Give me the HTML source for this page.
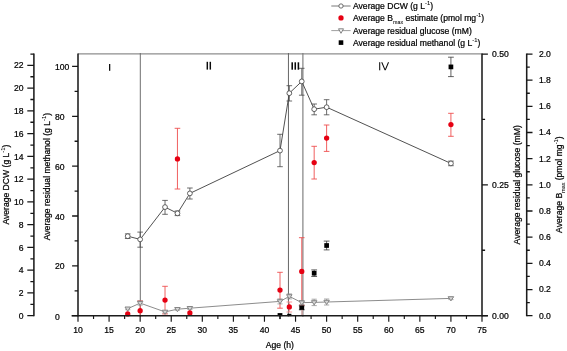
<!DOCTYPE html><html><head><meta charset="utf-8"><title>chart</title>
<style>html,body{margin:0;padding:0;background:#fff}svg{display:block;will-change:transform}text{font-family:"Liberation Sans",sans-serif;fill:#000;stroke:#000;stroke-width:0.22px}</style></head><body>
<svg width="567" height="351" viewBox="0 0 567 351">
<rect width="567" height="351" fill="#fff"/>
<defs><clipPath id="pc"><rect x="78.0" y="50" width="404.0" height="265.9"/></clipPath></defs>
<line x1="78.0" y1="53.85" x2="482.0" y2="53.85" stroke="#8e8e8e" stroke-width="1.3"/>
<line x1="140.3" y1="53.0" x2="140.3" y2="316.5" stroke="#6e6e6e" stroke-width="1.0"/>
<line x1="288.45" y1="53.0" x2="288.45" y2="316.5" stroke="#666" stroke-width="1.0"/>
<line x1="302.9" y1="53.0" x2="302.9" y2="316.7" stroke="#7c7c7c" stroke-width="1.15"/>
<g>
<polyline points="127.72,308.70 140.15,303.10 165.02,311.90 177.45,309.20 189.88,308.20 280.00,301.40 289.32,296.40 301.75,302.60 314.18,302.40 326.62,302.00 450.92,298.40" fill="none" stroke="#868686" stroke-width="0.95"/>
<polyline points="127.72,236.20 140.15,239.40 165.02,207.10 177.45,213.30 189.88,193.40 280.00,150.60 289.32,93.20 301.75,81.40 314.18,109.20 326.62,107.20 450.92,163.40" fill="none" stroke="#484848" stroke-width="0.95"/>
<path d="M140.15 300.90V315.70M137.35 300.90H142.95M137.35 315.70H142.95" stroke="#ee4e4e" stroke-width="0.9" fill="none"/>
<path d="M165.02 286.30V313.90M162.22 286.30H167.82M162.22 313.90H167.82" stroke="#ee4e4e" stroke-width="0.9" fill="none"/>
<path d="M177.45 128.30V189.00M174.65 128.30H180.25M174.65 189.00H180.25" stroke="#ee4e4e" stroke-width="0.9" fill="none"/>
<path d="M280.00 272.30V308.20M277.20 272.30H282.80M277.20 308.20H282.80" stroke="#ee4e4e" stroke-width="0.9" fill="none"/>
<path d="M289.32 302.00V312.00M286.52 302.00H292.12M286.52 312.00H292.12" stroke="#f38c8c" stroke-width="0.9" fill="none"/>
<path d="M301.75 237.70V305.20M298.95 237.70H304.55M298.95 305.20H304.55" stroke="#ee4e4e" stroke-width="0.9" fill="none"/>
<path d="M314.18 146.30V179.00M311.38 146.30H316.98M311.38 179.00H316.98" stroke="#ee4e4e" stroke-width="0.9" fill="none"/>
<path d="M326.62 125.00V151.40M323.82 125.00H329.42M323.82 151.40H329.42" stroke="#ee4e4e" stroke-width="0.9" fill="none"/>
<path d="M450.92 113.30V136.30M448.12 113.30H453.72M448.12 136.30H453.72" stroke="#ee4e4e" stroke-width="0.9" fill="none"/>
<path d="M127.72 307.70V309.70M125.12 307.70H130.32M125.12 309.70H130.32" stroke="#868686" stroke-width="0.7" fill="none"/>
<path d="M140.15 301.10V305.10M137.55 301.10H142.75M137.55 305.10H142.75" stroke="#868686" stroke-width="0.7" fill="none"/>
<path d="M165.02 310.90V312.90M162.42 310.90H167.62M162.42 312.90H167.62" stroke="#868686" stroke-width="0.7" fill="none"/>
<path d="M177.45 308.20V310.20M174.85 308.20H180.05M174.85 310.20H180.05" stroke="#868686" stroke-width="0.7" fill="none"/>
<path d="M189.88 307.00V309.40M187.28 307.00H192.48M187.28 309.40H192.48" stroke="#868686" stroke-width="0.7" fill="none"/>
<path d="M280.00 298.90V303.90M277.40 298.90H282.60M277.40 303.90H282.60" stroke="#868686" stroke-width="0.7" fill="none"/>
<path d="M289.32 293.90V298.90M286.72 293.90H291.92M286.72 298.90H291.92" stroke="#868686" stroke-width="0.7" fill="none"/>
<path d="M301.75 300.60V304.60M299.15 300.60H304.35M299.15 304.60H304.35" stroke="#868686" stroke-width="0.7" fill="none"/>
<path d="M314.18 299.20V305.60M311.58 299.20H316.78M311.58 305.60H316.78" stroke="#868686" stroke-width="0.7" fill="none"/>
<path d="M326.62 299.00V305.00M324.02 299.00H329.22M324.02 305.00H329.22" stroke="#868686" stroke-width="0.7" fill="none"/>
<path d="M450.92 297.20V299.60M448.32 297.20H453.52M448.32 299.60H453.52" stroke="#868686" stroke-width="0.7" fill="none"/>
<path d="M301.75 305.80V309.80M298.85 305.80H304.65M298.85 309.80H304.65" stroke="#3a3a3a" stroke-width="0.8" fill="none"/>
<path d="M314.18 269.90V276.50M311.28 269.90H317.08M311.28 276.50H317.08" stroke="#3a3a3a" stroke-width="0.8" fill="none"/>
<path d="M326.62 241.10V249.90M323.72 241.10H329.52M323.72 249.90H329.52" stroke="#3a3a3a" stroke-width="0.8" fill="none"/>
<path d="M450.92 57.20V76.60M448.02 57.20H453.82M448.02 76.60H453.82" stroke="#3a3a3a" stroke-width="0.8" fill="none"/>
<path d="M127.72 233.90V238.50M124.92 233.90H130.52M124.92 238.50H130.52" stroke="#484848" stroke-width="0.8" fill="none"/>
<path d="M140.15 232.10V247.20M137.35 232.10H142.95M137.35 247.20H142.95" stroke="#484848" stroke-width="0.8" fill="none"/>
<path d="M165.02 200.40V214.30M162.22 200.40H167.82M162.22 214.30H167.82" stroke="#484848" stroke-width="0.8" fill="none"/>
<path d="M177.45 211.00V215.60M174.65 211.00H180.25M174.65 215.60H180.25" stroke="#484848" stroke-width="0.8" fill="none"/>
<path d="M189.88 188.00V199.00M187.08 188.00H192.68M187.08 199.00H192.68" stroke="#484848" stroke-width="0.8" fill="none"/>
<path d="M280.00 134.30V166.70M277.20 134.30H282.80M277.20 166.70H282.80" stroke="#484848" stroke-width="0.8" fill="none"/>
<path d="M289.32 85.70V101.00M286.52 85.70H292.12M286.52 101.00H292.12" stroke="#484848" stroke-width="0.8" fill="none"/>
<path d="M301.75 68.30V95.20M298.95 68.30H304.55M298.95 95.20H304.55" stroke="#484848" stroke-width="0.8" fill="none"/>
<path d="M314.18 104.00V114.80M311.38 104.00H316.98M311.38 114.80H316.98" stroke="#484848" stroke-width="0.8" fill="none"/>
<path d="M326.62 99.70V114.80M323.82 99.70H329.42M323.82 114.80H329.42" stroke="#484848" stroke-width="0.8" fill="none"/>
<path d="M450.92 161.10V165.70M448.12 161.10H453.72M448.12 165.70H453.72" stroke="#484848" stroke-width="0.8" fill="none"/>
<path d="M124.97 307.00H130.47L127.72 311.20Z" fill="#d6d6d6" stroke="#868686" stroke-width="1.0" stroke-linejoin="round"/>
<path d="M137.40 301.40H142.90L140.15 305.60Z" fill="#d6d6d6" stroke="#868686" stroke-width="1.0" stroke-linejoin="round"/>
<path d="M162.27 310.20H167.77L165.02 314.40Z" fill="#d6d6d6" stroke="#868686" stroke-width="1.0" stroke-linejoin="round"/>
<path d="M174.70 307.50H180.20L177.45 311.70Z" fill="#d6d6d6" stroke="#868686" stroke-width="1.0" stroke-linejoin="round"/>
<path d="M187.13 306.50H192.63L189.88 310.70Z" fill="#d6d6d6" stroke="#868686" stroke-width="1.0" stroke-linejoin="round"/>
<path d="M277.25 299.70H282.75L280.00 303.90Z" fill="#d6d6d6" stroke="#868686" stroke-width="1.0" stroke-linejoin="round"/>
<path d="M286.57 294.70H292.07L289.32 298.90Z" fill="#d6d6d6" stroke="#868686" stroke-width="1.0" stroke-linejoin="round"/>
<path d="M299.00 300.90H304.50L301.75 305.10Z" fill="#d6d6d6" stroke="#868686" stroke-width="1.0" stroke-linejoin="round"/>
<path d="M311.43 300.70H316.93L314.18 304.90Z" fill="#d6d6d6" stroke="#868686" stroke-width="1.0" stroke-linejoin="round"/>
<path d="M323.87 300.30H329.37L326.62 304.50Z" fill="#d6d6d6" stroke="#868686" stroke-width="1.0" stroke-linejoin="round"/>
<path d="M448.17 296.70H453.67L450.92 300.90Z" fill="#d6d6d6" stroke="#868686" stroke-width="1.0" stroke-linejoin="round"/>
<rect x="277.60" y="313.1" width="4.8" height="3.0" fill="#000"/>
<rect x="279.40" y="316" width="1.2" height="3.1" fill="#111"/>
<rect x="287.22" y="313.8" width="4.2" height="2.3" fill="#000"/>
<rect x="299.35" y="305.7" width="4.8" height="4.2" fill="#000"/>
<rect x="301.25" y="309.9" width="1.6" height="5.2" fill="#c9a0a0"/>
<rect x="311.83" y="270.85" width="4.7" height="4.7" fill="#000"/>
<rect x="324.27" y="243.15" width="4.7" height="4.7" fill="#000"/>
<rect x="448.57" y="64.55" width="4.7" height="4.7" fill="#000"/>
<circle cx="127.72" cy="313.90" r="2.65" fill="#e60012"/>
<circle cx="140.15" cy="310.70" r="2.65" fill="#e60012"/>
<circle cx="165.02" cy="300.10" r="2.65" fill="#e60012"/>
<circle cx="177.45" cy="158.90" r="2.65" fill="#e60012"/>
<circle cx="189.88" cy="312.90" r="2.65" fill="#e60012"/>
<circle cx="280.00" cy="290.10" r="2.65" fill="#e60012"/>
<circle cx="289.32" cy="306.90" r="2.65" fill="#e60012"/>
<circle cx="301.75" cy="271.40" r="2.65" fill="#e60012"/>
<circle cx="314.18" cy="162.60" r="2.65" fill="#e60012"/>
<circle cx="326.62" cy="138.10" r="2.65" fill="#e60012"/>
<circle cx="450.92" cy="124.60" r="2.65" fill="#e60012"/>
<circle cx="127.72" cy="236.20" r="2.4" fill="#fff" stroke="#484848" stroke-width="0.85"/>
<circle cx="140.15" cy="239.40" r="2.4" fill="#fff" stroke="#484848" stroke-width="0.85"/>
<circle cx="165.02" cy="207.10" r="2.4" fill="#fff" stroke="#484848" stroke-width="0.85"/>
<circle cx="177.45" cy="213.30" r="2.4" fill="#fff" stroke="#484848" stroke-width="0.85"/>
<circle cx="189.88" cy="193.40" r="2.4" fill="#fff" stroke="#484848" stroke-width="0.85"/>
<circle cx="280.00" cy="150.60" r="2.4" fill="#fff" stroke="#484848" stroke-width="0.85"/>
<circle cx="289.32" cy="93.20" r="2.4" fill="#fff" stroke="#484848" stroke-width="0.85"/>
<circle cx="301.75" cy="81.40" r="2.4" fill="#fff" stroke="#484848" stroke-width="0.85"/>
<circle cx="314.18" cy="109.20" r="2.4" fill="#fff" stroke="#484848" stroke-width="0.85"/>
<circle cx="326.62" cy="107.20" r="2.4" fill="#fff" stroke="#484848" stroke-width="0.85"/>
<circle cx="450.92" cy="163.40" r="2.4" fill="#fff" stroke="#484848" stroke-width="0.85"/>
</g>
<g stroke="#1c1c1c" stroke-width="1.4" fill="none" stroke-linecap="butt">
<path d="M71.6 315.7H487.9"/>
<path d="M78.0 53.5V316.34999999999997" stroke-width="1.55"/>
<path d="M482.0 53.5V316.34999999999997" stroke-width="1.55"/>
<path d="M33.9 53.5V316.34999999999997" stroke-width="1.55"/>
<path d="M526.7 53.5V316.34999999999997" stroke-width="1.55"/>
</g>
<g stroke="#161616" stroke-width="1.3" fill="none">
<path d="M78.00 315.7v6.1M109.08 315.7v6.1M140.15 315.7v6.1M171.23 315.7v6.1M202.31 315.7v6.1M233.38 315.7v6.1M264.46 315.7v6.1M295.54 315.7v6.1M326.62 315.7v6.1M357.69 315.7v6.1M388.77 315.7v6.1M419.85 315.7v6.1M450.92 315.7v6.1M482.00 315.7v6.1M93.54 315.7v3.2M124.62 315.7v3.2M155.69 315.7v3.2M186.77 315.7v3.2M217.85 315.7v3.2M248.92 315.7v3.2M280.00 315.7v3.2M311.08 315.7v3.2M342.15 315.7v3.2M373.23 315.7v3.2M404.31 315.7v3.2M435.38 315.7v3.2M466.46 315.7v3.2" stroke-width="1.15"/>
<path d="M78.0 315.70h-5.9M78.0 265.85h-5.9M78.0 216.00h-5.9M78.0 166.16h-5.9M78.0 116.31h-5.9M78.0 66.46h-5.9M78.0 290.78h-3.4M78.0 240.93h-3.4M78.0 191.08h-3.4M78.0 141.23h-3.4M78.0 91.39h-3.4"/>
<path d="M33.9 315.70h-6.6M33.9 292.94h-6.6M33.9 270.19h-6.6M33.9 247.43h-6.6M33.9 224.67h-6.6M33.9 201.92h-6.6M33.9 179.16h-6.6M33.9 156.40h-6.6M33.9 133.65h-6.6M33.9 110.89h-6.6M33.9 88.13h-6.6M33.9 65.38h-6.6M33.9 304.32h-3.5M33.9 281.57h-3.5M33.9 258.81h-3.5M33.9 236.05h-3.5M33.9 213.30h-3.5M33.9 190.54h-3.5M33.9 167.78h-3.5M33.9 145.03h-3.5M33.9 122.27h-3.5M33.9 99.51h-3.5M33.9 76.76h-3.5M33.9 54.15h-3.5"/>
<path d="M482.0 315.70h5.9M482.0 184.85h5.9M482.0 54.10h5.9M482.0 250.27h3.1M482.0 119.43h3.1"/>
<path d="M526.7 315.70h5.8M526.7 289.53h5.8M526.7 263.36h5.8M526.7 237.19h5.8M526.7 211.02h5.8M526.7 184.85h5.8M526.7 158.68h5.8M526.7 132.51h5.8M526.7 106.34h5.8M526.7 80.17h5.8M526.7 54.10h5.8M526.7 302.62h3.1M526.7 276.44h3.1M526.7 250.27h3.1M526.7 224.11h3.1M526.7 197.94h3.1M526.7 171.76h3.1M526.7 145.59h3.1M526.7 119.43h3.1M526.7 93.25h3.1M526.7 67.09h3.1"/>
</g>
<g font-size="8.6">
<text x="78.00" y="332.75" text-anchor="middle">10</text>
<text x="109.08" y="332.75" text-anchor="middle">15</text>
<text x="140.15" y="332.75" text-anchor="middle">20</text>
<text x="171.23" y="332.75" text-anchor="middle">25</text>
<text x="202.31" y="332.75" text-anchor="middle">30</text>
<text x="233.38" y="332.75" text-anchor="middle">35</text>
<text x="264.46" y="332.75" text-anchor="middle">40</text>
<text x="295.54" y="332.75" text-anchor="middle">45</text>
<text x="326.62" y="332.75" text-anchor="middle">50</text>
<text x="357.69" y="332.75" text-anchor="middle">55</text>
<text x="388.77" y="332.75" text-anchor="middle">60</text>
<text x="419.85" y="332.75" text-anchor="middle">65</text>
<text x="450.92" y="332.75" text-anchor="middle">70</text>
<text x="482.00" y="332.75" text-anchor="middle">75</text>
<text x="54.9" y="319.80">0</text>
<text x="54.9" y="269.35">20</text>
<text x="54.9" y="219.50">40</text>
<text x="54.9" y="169.66">60</text>
<text x="54.9" y="119.81">80</text>
<text x="54.9" y="69.96">100</text>
<text x="23.5" y="318.80" text-anchor="end">0</text>
<text x="23.5" y="296.04" text-anchor="end">2</text>
<text x="23.5" y="273.29" text-anchor="end">4</text>
<text x="23.5" y="250.53" text-anchor="end">6</text>
<text x="23.5" y="227.77" text-anchor="end">8</text>
<text x="23.5" y="205.02" text-anchor="end">10</text>
<text x="23.5" y="182.26" text-anchor="end">12</text>
<text x="23.5" y="159.50" text-anchor="end">14</text>
<text x="23.5" y="136.75" text-anchor="end">16</text>
<text x="23.5" y="113.99" text-anchor="end">18</text>
<text x="23.5" y="91.23" text-anchor="end">20</text>
<text x="23.5" y="68.48" text-anchor="end">22</text>
<text x="492" y="318.60">0.00</text>
<text x="492" y="187.75">0.25</text>
<text x="492" y="56.90">0.50</text>
<text x="538.9" y="318.60">0.0</text>
<text x="538.9" y="292.43">0.2</text>
<text x="538.9" y="266.26">0.4</text>
<text x="538.9" y="240.09">0.6</text>
<text x="538.9" y="213.92">0.8</text>
<text x="538.9" y="187.75">1.0</text>
<text x="538.9" y="161.58">1.2</text>
<text x="538.9" y="135.41">1.4</text>
<text x="538.9" y="109.24">1.6</text>
<text x="538.9" y="83.07">1.8</text>
<text x="538.9" y="56.90">2.0</text>
</g>
<g font-size="8.64">
<text x="279.8" y="348" text-anchor="middle" font-size="8.6">Age (h)</text>
<text transform="translate(9.4 184.6) rotate(-90)" text-anchor="middle" font-size="8.6">Average DCW (g L<tspan font-size="5.85" stroke-width="0.08" dy="-4.1">-1</tspan><tspan dy="4.1">)</tspan></text>
<text transform="translate(49.7 176.6) rotate(-90)" text-anchor="middle" font-size="8.6">Average residual methanol (g L<tspan font-size="5.85" stroke-width="0.08" dy="-4.1">-1</tspan><tspan dy="4.1">)</tspan></text>
<text transform="translate(520.3 184.8) rotate(-90)" text-anchor="middle">Average residual glucose (mM)</text>
<text transform="translate(562.2 184.6) rotate(-90)" text-anchor="middle">Average B<tspan font-size="5.36" stroke-width="0.05" dy="2.6">max</tspan><tspan dy="-2.6"> (pmol mg</tspan><tspan font-size="5.88" stroke-width="0.08" dy="-4.1">-1</tspan><tspan dy="4.1">)</tspan></text>
</g>
<rect x="109.03" y="64.0" width="1.25" height="6.80" fill="#0a0a0a"/>
<rect x="206.58" y="61.8" width="1.45" height="7.80" fill="#0a0a0a"/>
<rect x="209.58" y="61.8" width="1.45" height="7.80" fill="#0a0a0a"/>
<rect x="291.43" y="62.3" width="1.55" height="7.40" fill="#0a0a0a"/>
<rect x="294.48" y="62.3" width="1.55" height="7.40" fill="#0a0a0a"/>
<rect x="297.62" y="62.3" width="1.55" height="7.40" fill="#0a0a0a"/>
<rect x="379.18" y="62.2" width="1.05" height="8.10" fill="#0a0a0a"/>
<path d="M381.2 62.2h1.15l2.8 6.9l2.8-6.9h1.15l-3.4 8.1h-1.1z" fill="#0a0a0a"/>
<g font-size="8.6">
<line x1="331.3" y1="6.0" x2="350.6" y2="6.0" stroke="#6a6a6a" stroke-width="0.9"/>
<circle cx="341.0" cy="6.0" r="2.15" fill="#fff" stroke="#555" stroke-width="0.85"/>
<circle cx="341.0" cy="17.9" r="2.65" fill="#e60012"/>
<line x1="331.3" y1="30.6" x2="350.6" y2="30.6" stroke="#868686" stroke-width="0.8"/>
<path d="M338.50 28.80H343.50L341.00 33.30Z" fill="#f6f6f6" stroke="#777" stroke-width="0.9" stroke-linejoin="round"/>
<rect x="338.7" y="40.300000000000004" width="4.6" height="4.6" fill="#000"/>
<text x="353" y="9.1">Average DCW (g L<tspan font-size="5.85" stroke-width="0.08" dy="-4.1">-1</tspan><tspan dy="4.1">)</tspan></text>
<text x="353" y="21.0">Average B<tspan font-size="5.33" stroke-width="0.05" dy="2.6">max</tspan><tspan dy="-2.6"> estimate (pmol mg</tspan><tspan font-size="5.85" stroke-width="0.08" dy="-4.1">-1</tspan><tspan dy="4.1">)</tspan></text>
<text x="353" y="33.7">Average residual glucose (mM)</text>
<text x="353" y="45.7">Average residual methanol (g L<tspan font-size="5.85" stroke-width="0.08" dy="-4.1">-1</tspan><tspan dy="4.1">)</tspan></text>
</g>
</svg></body></html>
